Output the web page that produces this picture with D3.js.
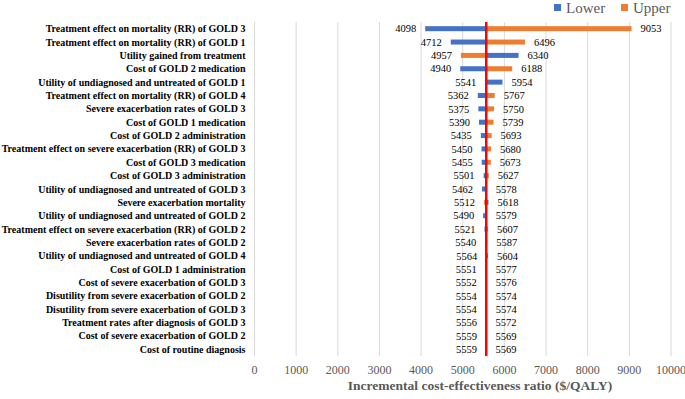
<!DOCTYPE html>
<html>
<head>
<meta charset="utf-8">
<script src="https://cdn.jsdelivr.net/npm/d3@7"></script>
<style>
  body { margin: 0; background: #fff; }
</style>
</head>
<body>
<div id="chart"></div>
<script>
// tornado chart: one-way sensitivity of ICER

const categories = [
  "Treatment effect on mortality (RR) of GOLD 3",
  "Treatment effect on mortality (RR) of GOLD 1",
  "Utility gained from treatment",
  "Cost of GOLD 2 medication",
  "Utility of undiagnosed and untreated of GOLD 1",
  "Treatment effect on mortality (RR) of GOLD 4",
  "Severe exacerbation rates of GOLD 3",
  "Cost of GOLD 1 medication",
  "Cost of GOLD 2 administration",
  "Treatment effect on severe exacerbation (RR) of GOLD 3",
  "Cost of GOLD 3 medication",
  "Cost of GOLD 3 administration",
  "Utility of undiagnosed and untreated of GOLD 3",
  "Severe exacerbation mortality",
  "Utility of undiagnosed and untreated of GOLD 2",
  "Treatment effect on severe exacerbation (RR) of GOLD 2",
  "Severe exacerbation rates of GOLD 2",
  "Utility of undiagnosed and untreated of GOLD 4",
  "Cost of GOLD 1 administration",
  "Cost of severe exacerbation of GOLD 3",
  "Disutility from severe exacerbation of GOLD 2",
  "Disutility from severe exacerbation of GOLD 3",
  "Treatment rates after diagnosis of GOLD 3",
  "Cost of severe exacerbation of GOLD 2",
  "Cost of routine diagnosis"
];

const lowerVals = [4098, 4712, 6340, 4940, 5954, 5362, 5375, 5390, 5435, 5450, 5455, 5501,
  5462, 5618, 5490, 5521, 5540, 5604, 5551, 5552, 5554, 5554, 5556, 5559, 5559];
const upperVals = [9053, 6496, 4957, 6188, 5541, 5767, 5750, 5739, 5693, 5680, 5673, 5627,
  5578, 5512, 5579, 5607, 5587, 5564, 5577, 5576, 5574, 5574, 5572, 5569, 5569];

const baseICER = 5564;
const ticks = [0, 1000, 2000, 3000, 4000, 5000, 6000, 7000, 8000, 9000, 10000];

const width = 685, height = 399;
const margin = { top: 22, right: 14, bottom: 43, left: 254.5 };

const svg = d3.select("#chart").append("svg")
  .attr("width", width)
  .attr("height", height)
  .attr("font-family", "'Liberation Serif', 'Times New Roman', 'DejaVu Serif', serif");

const x = d3.scaleLinear().domain([0, 10000]).range([margin.left, width - margin.right]);
const y = d3.scaleBand().domain(categories).range([margin.top, height - margin.bottom]);

const blue = "#4472C4", orange = "#ED7D31", gray = "#595959";
const barH = 5;

// gridlines
svg.append("g")
  .selectAll("line")
  .data(ticks)
  .join("line")
  .attr("x1", d => x(d)).attr("x2", d => x(d))
  .attr("y1", margin.top).attr("y2", height - margin.bottom)
  .attr("stroke", "#d9d9d9")
  .attr("stroke-width", 1);

// tick labels
svg.append("g")
  .attr("font-size", 12)
  .attr("fill", gray)
  .attr("text-anchor", "middle")
  .selectAll("text")
  .data(ticks)
  .join("text")
  .attr("x", d => x(d))
  .attr("y", 374)
  .text(d => d);

const rows = categories.map((c, i) => ({ name: c, lower: lowerVals[i], upper: upperVals[i] }));

// bars from the base case out to each value
const bars = svg.append("g");
bars.selectAll("rect.lower")
  .data(rows)
  .join("rect")
  .attr("class", "lower")
  .attr("x", d => Math.min(x(d.lower), x(baseICER)))
  .attr("width", d => Math.abs(x(d.lower) - x(baseICER)))
  .attr("y", d => y(d.name) + y.bandwidth() / 2 - barH / 2)
  .attr("height", barH)
  .attr("fill", blue);
bars.selectAll("rect.upper")
  .data(rows)
  .join("rect")
  .attr("class", "upper")
  .attr("x", d => Math.min(x(d.upper), x(baseICER)))
  .attr("width", d => Math.abs(x(d.upper) - x(baseICER)))
  .attr("y", d => y(d.name) + y.bandwidth() / 2 - barH / 2)
  .attr("height", barH)
  .attr("fill", orange);

// base case line
svg.append("line")
  .attr("x1", x(baseICER)).attr("x2", x(baseICER))
  .attr("y1", margin.top).attr("y2", height - margin.bottom)
  .attr("stroke", "#ff0000")
  .attr("stroke-width", 2.5);

// value labels
const vl = svg.append("g").attr("font-size", 10.5).attr("fill", "#000");
vl.selectAll("text.lo")
  .data(rows)
  .join("text")
  .attr("class", "lo")
  .attr("text-anchor", "end")
  .attr("x", d => x(Math.min(d.lower, d.upper)) - 9)
  .attr("y", d => y(d.name) + y.bandwidth() / 2 + 3.7)
  .text(d => Math.min(d.lower, d.upper));
vl.selectAll("text.hi")
  .data(rows)
  .join("text")
  .attr("class", "hi")
  .attr("x", d => x(Math.max(d.lower, d.upper)) + 9)
  .attr("y", d => y(d.name) + y.bandwidth() / 2 + 3.7)
  .text(d => Math.max(d.lower, d.upper));

// category labels
svg.append("g")
  .attr("font-size", 10)
  .attr("font-weight", "bold")
  .attr("text-anchor", "end")
  .selectAll("text")
  .data(categories)
  .join("text")
  .attr("x", margin.left - 9)
  .attr("y", d => y(d) + y.bandwidth() / 2 + 3.5)
  .text(d => d);

// axis title
svg.append("text")
  .attr("x", 480)
  .attr("y", 390)
  .attr("text-anchor", "middle")
  .attr("font-size", 13.5)
  .attr("font-weight", "bold")
  .attr("fill", gray)
  .text("Incremental cost-effectiveness ratio ($/QALY)");

// legend
const legend = svg.append("g").attr("font-size", 15).attr("fill", gray);
[["Lower", blue, 554], ["Upper", orange, 621]].forEach(([label, color, lx]) => {
  legend.append("rect").attr("x", lx).attr("y", 4).attr("width", 7).attr("height", 7).attr("fill", color);
  legend.append("text").attr("x", lx + 12).attr("y", 13).text(label);
});
</script>
</body>
</html>
